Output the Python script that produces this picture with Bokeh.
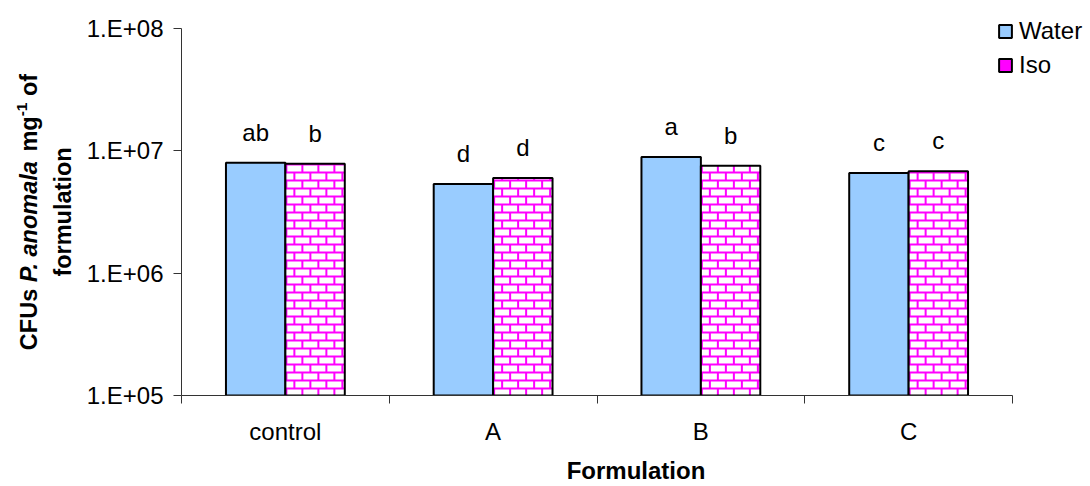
from math import pi

import numpy as np
from bokeh.core.properties import value
from bokeh.embed import file_html
from bokeh.layouts import row
from bokeh.models import (ColumnDataSource, FixedTicker, LabelSet, Legend,
                          LegendItem, Range1d)
from bokeh.plotting import figure
from bokeh.resources import INLINE
from bokeh.transform import dodge

# ---- data -------------------------------------------------------------
categories = ["control", "A", "B", "C"]
water = [8.0e6, 5.35e6, 8.9e6, 6.6e6]
iso = [7.85e6, 6.0e6, 7.55e6, 6.8e6]
water_letters = ["ab", "d", "a", "c"]
iso_letters = ["b", "d", "b", "c"]
y_ticks = [1e5, 1e6, 1e7, 1e8]
y_tick_labels = ["1.E+05", "1.E+06", "1.E+07", "1.E+08"]

FONT = "Liberation Sans"
AXIS_COLOR = "#333333"
WATER_COLOR = "#99CCFF"
BRICK_COLOR = "#FF00FF"
W, H = 1090, 486

# ---- geometry (pixels) ------------------------------------------------
TITLE_W = 80            # strip holding the rotated y-axis title
AXIS_LEFT = 181         # x of the value axis
AXIS_BOTTOM = 395       # y of the category axis
AXIS_TOP = 28           # y of the 1.E+08 tick
CAT_PX = 207.75         # width of one category slot
decade_px = (AXIS_BOTTOM - AXIS_TOP) / (len(y_ticks) - 1)
frame_w = W - AXIS_LEFT
log_base = np.log10(y_ticks[0])
y_top = 10 ** (np.log10(y_ticks[-1]) + AXIS_TOP / decade_px)
x_end = frame_w / CAT_PX

pos = np.arange(len(categories)) + 0.5
bar_w = 0.286
src = ColumnDataSource(dict(pos=pos, water=water, iso=iso,
                            water_lbl=water_letters, iso_lbl=iso_letters))

# white bricks laid over the magenta Iso bars (running bond, 16 x 8 px)
BRICK_W, BRICK_H, MORTAR = 16, 8, 2
bl, br, bt, bb = [], [], [], []
for centre, top in zip(pos, iso):
    w_px = bar_w * CAT_PX
    h_px = (np.log10(top) - log_base) * decade_px
    k = 0
    while k * BRICK_H < h_px:
        u0 = k * BRICK_H
        u1 = min(u0 + BRICK_H - MORTAR, h_px)
        a = -BRICK_W + (BRICK_W / 2 if k % 2 else 0)
        while a < w_px:
            lft, rgt = max(a + MORTAR, 0), min(a + BRICK_W, w_px)
            if rgt > lft:
                bl.append(centre + lft / CAT_PX)
                br.append(centre + rgt / CAT_PX)
                bb.append(10 ** (log_base + u0 / decade_px))
                bt.append(10 ** (log_base + u1 / decade_px))
            a += BRICK_W
        k += 1
bricks = ColumnDataSource(dict(left=bl, right=br, top=bt, bottom=bb))

p = figure(width=W - TITLE_W, height=H, title=None,
           x_range=Range1d(0, x_end), y_range=Range1d(y_ticks[0], y_top),
           y_axis_type="log", output_backend="svg", toolbar_location=None,
           min_border=0, min_border_left=AXIS_LEFT - TITLE_W, min_border_right=0,
           min_border_top=0, min_border_bottom=H - AXIS_BOTTOM)
p.grid.visible = False
p.outline_line_color = None
p.background_fill_color = "white"

r_water = p.vbar(x=dodge("pos", -bar_w / 2), top="water", bottom=y_ticks[0], width=bar_w,
                 fill_color=WATER_COLOR, line_color="black", line_width=2, source=src)
r_iso = p.vbar(x=dodge("pos", bar_w / 2), top="iso", bottom=y_ticks[0], width=bar_w,
               fill_color=BRICK_COLOR, line_color=None, source=src)
p.quad(left="left", right="right", top="top", bottom="bottom", source=bricks,
       fill_color="white", line_color=None)
r_iso_edge = p.vbar(x=dodge("pos", bar_w / 2), top="iso", bottom=y_ticks[0], width=bar_w,
                    fill_color=None, line_color="black", line_width=2, source=src)

# significance letters above each bar
for field, lbl, off in (("water", "water_lbl", -bar_w / 2), ("iso", "iso_lbl", bar_w / 2)):
    p.add_layout(LabelSet(x=dodge("pos", off), y=field, text=lbl, source=src,
                          y_offset=22, text_align="center", text_baseline="alphabetic",
                          text_font=value(FONT), text_font_size=value("24px"),
                          text_color="black"))

# category axis: ticks on slot boundaries, names at slot centres
xa = p.xaxis[0]
xa.bounds = (0, len(categories))
xa.ticker = FixedTicker(ticks=list(pos), minor_ticks=list(range(len(categories) + 1)))
xa.major_label_overrides = {float(v): c for v, c in zip(pos, categories)}
xa.major_tick_line_color = None
xa.major_tick_in = 0
xa.major_tick_out = 0
xa.minor_tick_in = 0
xa.minor_tick_out = 8
xa.minor_tick_line_color = AXIS_COLOR
xa.axis_line_color = AXIS_COLOR
xa.major_label_standoff = 14
xa.major_label_text_font = FONT
xa.major_label_text_font_size = "24px"
xa.major_label_text_color = "black"
xa.axis_label = "Formulation"
xa.axis_label_text_font = FONT
xa.axis_label_text_font_size = "24px"
xa.axis_label_text_font_style = "bold"
xa.axis_label_text_color = "black"
xa.axis_label_standoff = 9

# value axis: decades only
ya = p.yaxis[0]
ya.bounds = (y_ticks[0], y_ticks[-1])
ya.ticker = FixedTicker(ticks=y_ticks, minor_ticks=[])
ya.major_label_overrides = {int(v): t for v, t in zip(y_ticks, y_tick_labels)}
ya.major_tick_in = 0
ya.major_tick_out = 8
ya.major_tick_line_color = AXIS_COLOR
ya.minor_tick_line_color = None
ya.axis_line_color = AXIS_COLOR
ya.major_label_standoff = 10
ya.major_label_text_font = FONT
ya.major_label_text_font_size = "24px"
ya.major_label_text_color = "black"

legend = Legend(items=[LegendItem(label="Water", renderers=[r_water]),
                       LegendItem(label="Iso", renderers=[r_iso, r_iso_edge])],
                location=(997 - AXIS_LEFT, AXIS_BOTTOM - 79), orientation="vertical",
                glyph_width=16, glyph_height=16, label_standoff=6, spacing=6,
                padding=0, margin=0, border_line_color=None,
                background_fill_alpha=0,
                label_text_font=FONT, label_text_font_size="24px",
                label_text_color="black")
p.add_layout(legend)

# ---- rotated y-axis title (mixed styles) -------------------------------
t = figure(width=TITLE_W, height=H, title=None, x_range=Range1d(0, TITLE_W),
           y_range=Range1d(AXIS_BOTTOM, 0), output_backend="svg", toolbar_location=None,
           x_axis_location=None, y_axis_location=None, min_border=0,
           min_border_bottom=H - AXIS_BOTTOM)
t.grid.visible = False
t.outline_line_color = None

title_size = 23.5
SPACE = 278
pieces = [
    # text, space before (1/1000 em), advance width (1/1000 em), style, size, shift up
    ("CFUs", 0, 2611, "bold", title_size, 0),
    ("P. anomala", SPACE, 5280, "bold italic", title_size, 0),
    ("mg", SPACE, 1500, "bold", title_size, 0),
    ("-1", 0, 889, "bold", 15.5, 7),
    ("of", SPACE, 944, "bold", title_size, 0),
]
line1_x, line2_x = 28, 62
title_mid = (AXIS_TOP + AXIS_BOTTOM) / 2
total = sum(title_size * lead / 1000.0 + w * s / 1000.0 for _, lead, w, _, s, _ in pieces)
y = title_mid + total / 2
for txt, lead, w, style, size, dx in pieces:
    y -= lead * title_size / 1000.0
    t.text(x=[line1_x - dx], y=[y], text=[txt], angle=pi / 2,
           text_align="left", text_baseline="middle", text_color="black",
           text_font=value(FONT), text_font_style=value(style),
           text_font_size=value(f"{size}px"))
    y -= w * size / 1000.0
t.text(x=[line2_x], y=[title_mid], text=["formulation"], angle=pi / 2,
       text_align="center", text_baseline="middle", text_color="black",
       text_font=value(FONT), text_font_style=value("bold"),
       text_font_size=value(f"{title_size}px"))

layout = row(t, p)
open("out.html", "w").write(file_html(layout, INLINE))
